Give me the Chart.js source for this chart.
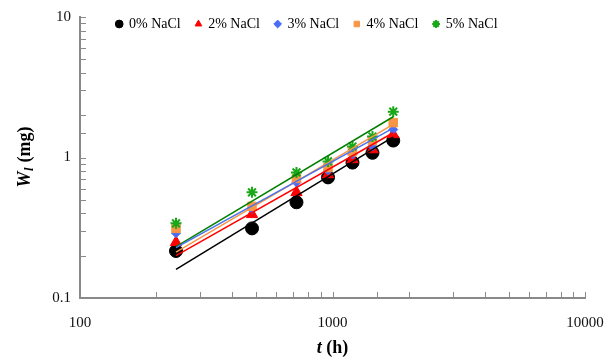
<!DOCTYPE html>
<html>
<head>
<meta charset="utf-8">
<script src="https://cdn.jsdelivr.net/npm/chart.js@4/dist/chart.umd.min.js"></script>
<style>
html,body{margin:0;padding:0;background:#fff;}
#wrap{width:614px;height:357px;}
</style>
</head>
<body>
<div id="wrap"><canvas id="c" width="614" height="357"></canvas></div>
<script>
// ---- data ----
const timesH = [240, 480, 720, 960, 1200, 1440, 1740];
const seriesNames = ['0% NaCl', '2% NaCl', '3% NaCl', '4% NaCl', '5% NaCl'];
const wl0 = [0.216, 0.313, 0.48, 0.722, 0.92, 1.08, 1.32];
const wl2 = [0.249, 0.394, 0.565, 0.757, 0.968, 1.14, 1.46];
const wl3 = [0.289, 0.428, 0.665, 0.809, 1.05, 1.20, 1.58];
const wl4 = [0.313, 0.449, 0.71, 0.849, 1.10, 1.32, 1.77];
const wl5 = [0.340, 0.565, 0.783, 0.937, 1.197, 1.41, 2.12];
// trend line end points (power-law fits)
const trendT = [240, 1740];
const trend0 = [0.16, 1.40];
const trend2 = [0.20, 1.50];
const trend3 = [0.228, 1.62];
const trend4 = [0.212, 1.72];
const trend5 = [0.232, 1.95];
const xTickLabels = ['100', '1000', '10000'];
const yTickLabels = ['0.1', '1', '10'];

const seriesVals = [wl0, wl2, wl3, wl4, wl5];
const trendVals = [trend0, trend2, trend3, trend4, trend5];
const markerColors = ['#000000', '#ff0000', '#4a6cf4', '#f79646', '#22cc22'];
const lineColors = ['#000000', '#ff0000', '#4a72f0', '#f79646', '#008000'];
const pStyles = ['circle', 'triangle', 'rectRot', 'rect', 'star'];
const pRadius = [6.5, 6.5, 4.5, 6, 5.5];

const pts = (xs, ys) => xs.map((x, i) => ({x: x, y: ys[i]}));
const datasets = [];
seriesVals.forEach((v, i) => {
  datasets.push({
    type: 'scatter', label: seriesNames[i], data: pts(timesH, v),
    pointStyle: pStyles[i], pointRadius: pRadius[i], pointHoverRadius: pRadius[i],
    backgroundColor: markerColors[i], borderColor: i === 4 ? '#1aa81a' : markerColors[i],
    borderWidth: i === 4 ? 2 : 1, order: 10 - i
  });
});
trendVals.forEach((v, i) => {
  datasets.push({
    type: 'line', label: 'trend ' + seriesNames[i], data: pts(trendT, v),
    showLine: true, pointRadius: 0, borderColor: lineColors[i], borderWidth: 1.5,
    fill: false, order: 0
  });
});

const serif = '"Liberation Serif", "DejaVu Serif", serif';

const layoutFix = {
  id: 'layoutFix',
  beforeLayout(chart) {
    const lg = chart.legend;
    if (lg && !lg._fixed) {
      const orig = lg.fit;
      lg.fit = function() { orig.call(this); this.height = 17; };
      lg._fixed = true;
    }
  },
  afterLayout(chart) {
    const lg = chart.legend;
    if (lg) {
      lg.left = 0; lg.right = chart.width; lg.width = chart.width;
      lg.top = 2; lg.bottom = 47; lg.height = 45;
    }
  }
};

const tickMarks = {
  id: 'tickMarks',
  afterDraw(chart) {
    const ctx = chart.ctx, ca = chart.chartArea;
    const xs = chart.scales.x, ys = chart.scales.y;
    ctx.save();
    ctx.strokeStyle = '#898989';
    ctx.lineWidth = 1;
    ys.ticks.forEach(t => {
      const p = Math.round(ys.getPixelForValue(t.value)) + 0.5;
      ctx.beginPath(); ctx.moveTo(ca.left, p); ctx.lineTo(ca.left + 6, p); ctx.stroke();
    });
    xs.ticks.forEach(t => {
      const p = Math.round(xs.getPixelForValue(t.value)) + 0.5;
      ctx.beginPath(); ctx.moveTo(p, ca.bottom); ctx.lineTo(p, ca.bottom - 6); ctx.stroke();
    });
    // axis titles
    ctx.fillStyle = '#000';
    ctx.textBaseline = 'alphabetic';
    const f1 = 'italic bold 18px ' + serif, f2 = 'bold 18px ' + serif;
    ctx.font = f1; const wt = ctx.measureText('t').width;
    ctx.font = f2; const wh = ctx.measureText(' (h)').width;
    let x0 = (ca.left + ca.right) / 2 - (wt + wh) / 2;
    const yb = 353;
    ctx.font = f1; ctx.fillText('t', x0, yb);
    ctx.font = f2; ctx.fillText(' (h)', x0 + wt, yb);
    ctx.save();
    ctx.translate(30, (ca.top + ca.bottom) / 2);
    ctx.rotate(-Math.PI / 2);
    const fs = 'italic bold 13px ' + serif;
    ctx.font = f1; const wW = ctx.measureText('W').width;
    ctx.font = fs; const wl = ctx.measureText('l').width;
    ctx.font = f2; const wm = ctx.measureText(' (mg)').width;
    let s = -(wW + wl + wm) / 2;
    ctx.font = f1; ctx.fillText('W', s, 0);
    ctx.font = fs; ctx.fillText('l', s + wW + 0.5, 3);
    ctx.font = f2; ctx.fillText(' (mg)', s + wW + wl + 1, 0);
    ctx.restore();
    ctx.restore();
  }
};

new Chart(document.getElementById('c'), {
  data: { datasets: datasets },
  options: {
    responsive: false, animation: false,
    layout: { padding: { left: 0, right: 29, top: 0, bottom: 0 } },
    plugins: {
      tooltip: { enabled: false },
      legend: {
        display: true, position: 'top', align: 'center',
        labels: {
          usePointStyle: true, boxWidth: 5.5, boxHeight: 5.5, padding: 15,
          color: '#000', font: { family: serif, size: 14 },
          filter: (item) => item.datasetIndex < 5,
          sort: (a, b) => a.datasetIndex - b.datasetIndex
        }
      }
    },
    scales: {
      x: {
        type: 'logarithmic', position: 'bottom', min: 100, max: 10000,
        grid: { display: true, drawOnChartArea: false, drawTicks: false },
        border: { display: true, color: '#898989', width: 2 },
        ticks: {
          autoSkip: false, maxRotation: 0, padding: 16, color: '#111',
          font: { family: serif, size: 15 },
          callback: function(v) {
            const s = String(v);
            return xTickLabels.includes(s) ? s : '';
          }
        },
        afterFit(scale) { scale.height = 59; scale.paddingLeft = 0; scale.paddingRight = 0; }
      },
      y: {
        type: 'logarithmic', position: 'left', min: 0.1, max: 10,
        grid: { display: true, drawOnChartArea: false, drawTicks: false },
        border: { display: true, color: '#898989', width: 2 },
        ticks: {
          autoSkip: false, padding: 9, color: '#111',
          font: { family: serif, size: 15 },
          callback: function(v) {
            const s = String(Math.round(v * 1000) / 1000);
            return yTickLabels.includes(s) ? s : '';
          }
        },
        afterFit(scale) { scale.width = 80; scale.paddingTop = 0; scale.paddingBottom = 0; }
      }
    }
  },
  plugins: [layoutFix, tickMarks]
});
</script>
</body>
</html>
